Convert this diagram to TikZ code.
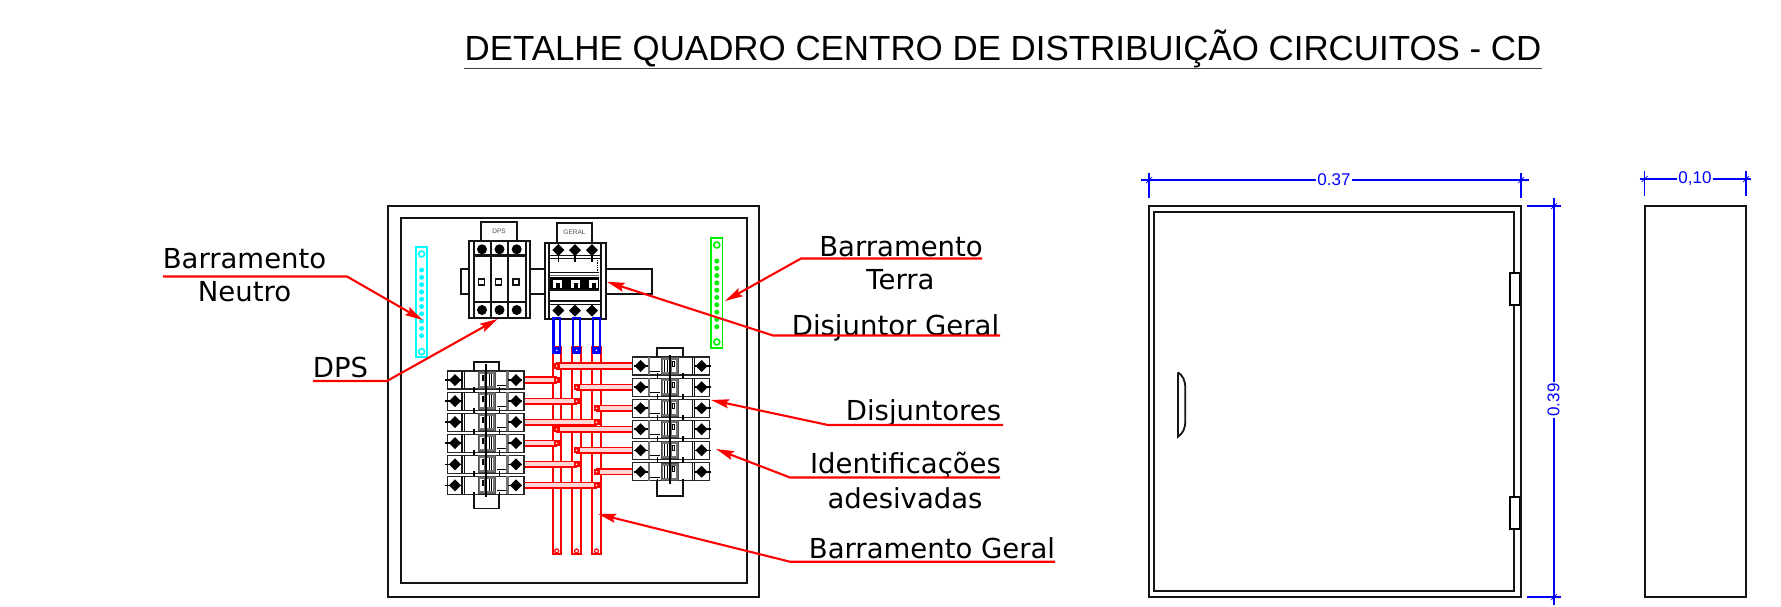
\documentclass[tikz,border=0pt]{standalone}
\usepackage{fontspec}
\setmainfont{DejaVu Sans}
\newfontfamily\arialf{Liberation Sans}
\usetikzlibrary{arrows.meta}
\definecolor{pinkfill}{RGB}{255,215,215}
\definecolor{pcyan}{RGB}{0,255,255}
\definecolor{pgreen}{RGB}{0,240,0}
\definecolor{pblue}{RGB}{0,0,255}
\definecolor{pred}{RGB}{255,0,0}
\tikzset{
  x=1pt,y=-1pt,
  blk/.style={draw=black!92,line width=1.8pt},
  thn/.style={draw=black!85,line width=1pt},
  leader/.style={draw=pred,line width=2.1pt,-{Stealth[length=18pt,width=9pt,inset=3pt]}},
  lbl/.style={font=\fontsize{27.5}{30}\selectfont,anchor=base,inner sep=0pt,text=black},
  dimt/.style={font=\arialf\fontsize{17}{18}\selectfont,text=pblue,inner sep=1.5pt,fill=white},
  dimb/.style={draw=pblue,line width=1.7pt},
  busbar/.style={draw=pred,line width=1.9pt},
  bluebar/.style={draw=pblue,line width=2.1pt},
  diam/.pic={\fill[black] (0,-6)--(6,0)--(0,6)--(-6,0)--cycle;},
  brkrow/.pic={
    \draw[thn,line width=1.3pt] (0,-9) rectangle (76.7,9);
    \draw[blk,line width=1.2pt] (14.7,-9)--(14.7,9) (17,-9)--(17,9);
    \draw[draw=black!55,line width=2.4pt] (60.2,-9)--(60.2,9);
    \draw[black,line width=1.6pt] (-2,0)--(14.7,0) (61,0)--(75,0);
    \pic at (7.7,0) {diam};
    \pic at (68.7,0) {diam};
    \draw[draw=black!70,fill=black!55,line width=1pt] (31,-8.5) rectangle (47.7,8.5);
    \fill[white] (33,-6) rectangle (37,6);
    \fill[white] (40,-6) rectangle (46,6);
    \draw[black,line width=1pt] (35,-5) rectangle (36.5,0) (42,-6)--(42,6) (44.5,-6)--(44.5,6);
    \draw[black,line width=1pt] (49.7,5.5)--(59,5.5);
    \draw[black,line width=1.6pt] (26.5,7)--(26.5,12) (52,7)--(52,12);
  },
  sqr/.pic={\fill[pred] (-3,-3) rectangle (3,3);\fill[white] (0,0) circle (0.9pt);},
}
\begin{document}
\begin{tikzpicture}
\fill[white] (0,0) rectangle (1781,606);
\useasboundingbox (0,0) rectangle (1781,606);

% title
\node[inner sep=0pt,anchor=base,font=\arialf\fontsize{34.9}{38}\selectfont] (title) at (1003,60.5) {DETALHE QUADRO CENTRO DE DISTRIBUIÇÃO CIRCUITOS - CD};
\coordinate (tL) at (464,68.5);
\coordinate (tR) at (1542,68.5);
\draw[draw=black!75,line width=1.3pt] (tL)--(tR);

% panel
\draw[blk,line width=2pt] (388,205.5) rectangle (758.5,597);
\draw[blk,line width=2pt] (401,217.5) rectangle (747,583);

% neutral bar
\draw[draw=pcyan,line width=1.8pt] (416,247) rectangle (427.3,357);
\draw[draw=pcyan,line width=1.6pt] (421.6,254) circle (3pt) (421.6,351.7) circle (3pt);
\foreach \i in {0,...,9} \fill[pcyan] (421.6,270+7.3*\i) circle (2.5pt);

% earth bar
\draw[draw=pgreen,line width=1.8pt] (711,238) rectangle (722.5,348);
\draw[draw=pgreen,line width=1.6pt] (716.8,245) circle (3pt) (716.8,342) circle (3pt);
\foreach \i in {0,...,9} \fill[pgreen] (716.8,261+7.3*\i) circle (2.5pt);

% DIN rail
\draw[blk] (468.7,269)--(461,269)--(461,294.3)--(468.7,294.3);
\draw[blk] (530,269)--(544.7,269) (530,294.3)--(544.7,294.3);
\draw[blk] (605.7,269)--(652,269)--(652,294.3)--(605.7,294.3);

% DPS
\draw[blk] (481.3,241)--(481.3,222.3)--(517.3,222.3)--(517.3,241);
\node[inner sep=0pt,text=black!70,font=\arialf\fontsize{6.5}{7}\selectfont] (dpstag) at (499,231.5) {DPS};
\draw[blk] (468.7,241.3) rectangle (530,318.3);
\foreach \x in {473.7,491,508.3,525.7} \draw[blk] (\x,241.3)--(\x,318.3);
\draw[blk,line width=2.2pt] (473.7,255.5)--(525.7,255.5) (473.7,302)--(525.7,302);
\foreach \x in {482,499.5,516.7}{
  \fill[black] (\x,249.3) circle (5pt);
  \fill[black] (\x,310) circle (5pt);
}
\foreach \x in {481.5,498.7,516}
  \draw[blk,line width=1.5pt] (\x-3,279) rectangle (\x+3,285);

% GERAL
\draw[blk] (556.7,242)--(556.7,223.3)--(592.3,223.3)--(592.3,242);
\node[inner sep=0pt,text=black!70,font=\arialf\fontsize{6.5}{7}\selectfont] (geraltag) at (574.5,232) {GERAL};
\draw[blk] (544.7,242.7) rectangle (605.7,319);
\draw[blk] (549,242.7)--(549,319) (601.3,242.7)--(601.3,319);
\draw[blk,line width=1.5pt] (549,255.7)--(601.3,255.7) (549,258.5)--(601.3,258.5) (549,301)--(601.3,301) (549,304.3)--(601.3,304.3);
\draw[blk,line width=1.5pt] (550,272.7)--(599.3,272.7) (550,290)--(599.3,290);
\draw[draw=black!60,line width=1pt] (550,275)--(599.3,275);
\fill[black] (550,277) rectangle (599.3,288.5);
\foreach \x in {553,571,589}{
  \fill[white] (\x,280) rectangle (\x+9,288);
  \fill[black] (\x+2.5,283) rectangle (\x+6.5,288);
}
\foreach \x in {558.3,575,592}{
  \pic at (\x,250) {diam};
  \pic at (\x,310.5) {diam};
  \draw[black,line width=1.2pt] (\x,250)--(\x,261.7);
}
\draw[black,line width=1.3pt,densely dotted] (597.3,260)--(597.3,272);

% main bus bars
\foreach \a/\b in {552.7/560.7,572.3/580.7,592.3/600.7}{
  \draw[busbar] (\a,346.5) rectangle (\b,554);
  \draw[draw=pred,line width=1.2pt] ({(\a+\b)/2},551) circle (2pt);
}
% blue links
\foreach \a/\b in {553.5/560,573.3/580,593.3/599.6}{
  \draw[bluebar] (\a,318) rectangle (\b,353);
  \fill[pblue] (\a-0.8,347) rectangle (\b+0.8,353.8);
  \fill[white] ({(\a+\b)/2},350.3) circle (0.9pt);
}

% left connectors
\foreach \y/\x in {380/556.5,401.2/576.5,422.2/596.5,443.2/556.5,464.3/576.5,485.3/596.5}{
  \filldraw[draw=pred,fill=pinkfill,line width=1.6pt] (524,\y-2.9) rectangle (\x,\y+2.9);
  \pic at (\x,\y) {sqr};
}
% right connectors
\foreach \y/\x in {366/556.5,387.2/576.5,408.2/596.5,429.2/556.5,450.3/576.5,471.7/596.5}{
  \filldraw[draw=pred,fill=pinkfill,line width=1.6pt] (\x,\y-2.9) rectangle (632.3,\y+2.9);
  \pic at (\x,\y) {sqr};
}

% left breakers
\foreach \y in {380,401.2,422.2,443.2,464.3,485.3}
  \pic at (447.3,\y) {brkrow};
\draw[blk] (473.7,371)--(473.7,361.7)--(499.3,361.7)--(499.3,371);
\draw[blk] (473.7,494.3)--(473.7,508.5)--(499.3,508.5)--(499.3,494.3);
\draw[black,line width=1.6pt] (485.7,364)--(485.7,497);

% right breakers
\foreach \y in {366,387.2,408.2,429.2,450.3,471.7}
  \pic[xscale=-1] at (709.3,\y) {brkrow};
\draw[blk] (656.7,357)--(656.7,348.3)--(682.7,348.3)--(682.7,357);
\draw[blk] (656.7,480.7)--(656.7,495.7)--(682.7,495.7)--(682.7,480.7);
\draw[black,line width=1.6pt] (670,355)--(670,484);

% labels and leaders
\node[lbl] (l1a) at (244.5,268) {Barramento};
\node[lbl] (l1b) at (244.5,301) {Neutro};
\coordinate (n1) at (163,276.5); \coordinate (n2) at (347,276.5); \coordinate (nT) at (422.7,320);
\draw[leader] (n1)--(n2)--(nT);

\node[lbl] (l2) at (340.5,377.5) {DPS};
\coordinate (d1) at (313,381); \coordinate (d2) at (387,381); \coordinate (dT) at (497.7,319);
\draw[leader] (d1)--(d2)--(dT);

\node[lbl] (l3a) at (901,256) {Barramento};
\node[lbl] (l3b) at (900.5,289) {Terra};
\coordinate (t1) at (982,258.5); \coordinate (t2) at (801,258.5); \coordinate (tT) at (725,301);
\draw[leader] (t1)--(t2)--(tT);

\node[lbl] (l4) at (895.5,335) {Disjuntor Geral};
\coordinate (g1) at (1000,335.5); \coordinate (g2) at (773,335.5); \coordinate (gT) at (606.7,281.7);
\draw[leader] (g1)--(g2)--(gT);

\node[lbl] (l5) at (923.5,420) {Disjuntores};
\coordinate (j1) at (1003,425); \coordinate (j2) at (828,425); \coordinate (jT) at (711,400);
\draw[leader] (j1)--(j2)--(jT);

\node[lbl] (l6a) at (905.5,473) {Identificações};
\node[lbl] (l6b) at (905,508) {adesivadas};
\coordinate (i1) at (1000,477.5); \coordinate (i2) at (790,477.5); \coordinate (iT) at (716,449);
\draw[leader] (i1)--(i2)--(iT);

\node[lbl] (l7) at (932,558) {Barramento Geral};
\coordinate (b1) at (1055,561.7); \coordinate (b2) at (790,561.7); \coordinate (bT) at (598,514);
\draw[leader] (b1)--(b2)--(bT);

% front view
\draw[blk,line width=2pt] (1149,206) rectangle (1521,597);
\draw[blk,line width=2pt] (1154,211.5) rectangle (1514,591);
\filldraw[fill=white,draw=black,line width=1.5pt] (1510,273) rectangle (1519.5,305);
\filldraw[fill=white,draw=black,line width=1.5pt] (1510,497) rectangle (1519.5,529);
\draw[blk] (1178,372.3)--(1178,436.7) .. controls (1183,433) and (1185.3,429) .. (1185.3,420)--(1185.3,389) .. controls (1185.3,380) and (1183,376) .. (1178,372.3);

% side view
\draw[blk,line width=2pt] (1644.5,206) rectangle (1746,597);

% dimensions
\coordinate (a1) at (1149,180); \coordinate (a2) at (1521,180);
\draw[dimb] ([xshift=-8pt]a1)--([xshift=8pt]a2);
\draw[dimb] (1149,172.5)--(1149,198) (1521,172.5)--(1521,198);
\draw[pblue,line width=.7pt] (1146,183)--(1152,177) (1518,183)--(1524,177);
\node[dimt] (a) at (1334,180) {0.37};

\coordinate (c1) at (1554,206); \coordinate (c2) at (1554,597);
\draw[dimb] ([yshift=8pt]c1)--([yshift=-8pt]c2);
\draw[dimb] (1527,206)--(1561,206) (1527,597)--(1561,597);
\draw[pblue,line width=.7pt] (1551,209)--(1557,203) (1551,600)--(1557,594);
\node[dimt,rotate=90] (c) at (1553.5,400) {0.39};

\coordinate (e1) at (1644.5,179); \coordinate (e2) at (1746,179);
\draw[dimb] ([xshift=-5pt]e1)--([xshift=5pt]e2);
\draw[dimb] (1644.5,171)--(1644.5,196) (1746,171)--(1746,196);
\draw[pblue,line width=.7pt] (1641.5,182)--(1647.5,176) (1743,182)--(1749,176);
\node[dimt] (e) at (1695,179) {0,10};
\end{tikzpicture}
\end{document}
